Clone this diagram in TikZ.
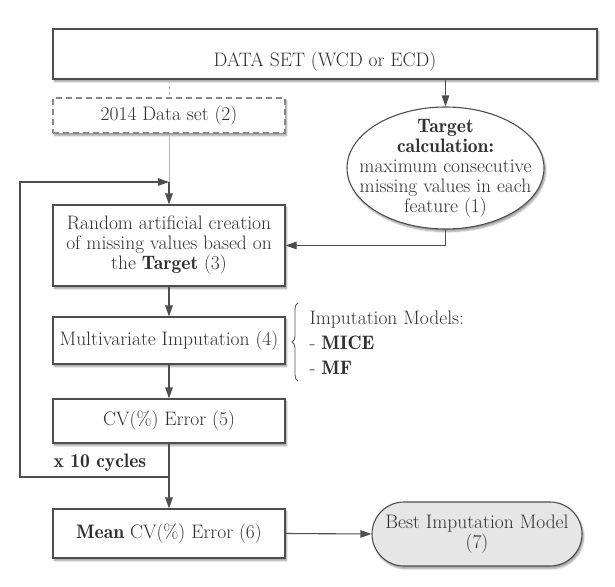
\documentclass[tikz,border=0pt]{standalone}
\usepackage{fontspec}
\newfontface\demibf{lmromandemi10-regular.otf}
\newcommand{\bfx}[1]{{\demibf #1}}
\usetikzlibrary{arrows.meta,shapes.geometric,shapes.misc,shadows.blur,decorations.pathreplacing,calc}
\definecolor{ink}{HTML}{303030}
\definecolor{edgec}{HTML}{4E4E4E}
\definecolor{lightedge}{HTML}{B4B4B4}
\definecolor{dashc}{HTML}{888888}
\definecolor{pillc}{HTML}{E6E6E6}
\begin{document}
\begin{tikzpicture}[x=1pt,y=-1pt,
  font=\fontsize{19.5}{20}\selectfont,
  every node/.style={text=ink},
  shadowed/.style={blur shadow={shadow xshift=1.5pt, shadow yshift=-2.5pt, shadow blur steps=6, shadow opacity=40}},
  box/.style={draw=edgec, line width=1.1pt, fill=white, align=center, inner sep=0pt, shadowed},
  dbox/.style={draw=dashc, line width=1.1pt, dash pattern=on 6pt off 4pt, fill=white, align=center, inner sep=0pt, shadowed},
  ell/.style={ellipse, draw=edgec, line width=1.1pt, fill=white, inner sep=0pt, shadowed},
  pill/.style={rounded rectangle, draw=edgec, line width=1.1pt, fill=pillc, align=center, inner sep=0pt, shadowed},
  arr/.style={draw=edgec, line width=1.1pt, -{Triangle[length=11pt,width=7.5pt]}},
  ln/.style={draw=edgec, line width=1.1pt}]
\useasboundingbox (0,0) rectangle (615,586);

\node[box, minimum width=544, minimum height=50] (ds) at (325,54) {};
\node (dslabel) at (325,62) {DATA SET (WCD or ECD)};

\node[dbox, minimum width=232, minimum height=35] (d14) at (169,115.5) {2014 Data set (2)};

\node[ell, minimum width=197, minimum height=122] (tgt) at (445.5,168) {};
\node[align=center] (tgtlabel) at (445.5,168) {\bfx{Target}\\\bfx{calculation:}\\maximum consecutive\\missing values in each\\feature (1)};

\node[box, minimum width=232, minimum height=81] (b3) at (169,245.5) {Random artificial creation\\of missing values based on\\the \bfx{Target} (3)};
\node[box, minimum width=232, minimum height=47] (b4) at (169,340.5) {Multivariate Imputation (4)};
\node[box, minimum width=232, minimum height=44] (b5) at (169,421) {CV(\%) Error (5)};
\node[box, minimum width=232, minimum height=49] (b6) at (169,533.5) {\bfx{Mean} CV(\%) Error (6)};
\node[pill, minimum width=210, minimum height=64] (best) at (477,534) {Best Imputation Model\\(7)};

\node[align=left, anchor=west, font=\fontsize{19.5}{25}\selectfont] (models) at (306,343) {Imputation Models:\\- \bfx{MICE}\\- \bfx{MF}};
\node[anchor=west] (cyc) at (50,463) {\bfx{x 10 cycles}};

\coordinate (j1) at (169,182);
\coordinate (j2) at (169,477);
\coordinate (loopTL) at (20,182);
\coordinate (loopBL) at (20,477);
\coordinate (braceB) at (298,381);
\coordinate (braceT) at (298,303);

\draw[lightedge, line width=1pt, dashed] (ds.south -| d14.north) -- (d14.north);
\draw[lightedge, line width=1pt] (d14.south) -- (j1);
\draw[arr] (j1) -- (b3.north);
\draw[arr] (j2) -- (loopBL) -- (loopTL) -- (j1);
\draw[arr] (ds.south -| tgt.north) -- (tgt.north);
\draw[arr] (tgt.south) |- (b3.east);
\draw[arr] (b3.south) -- (b4.north);
\draw[arr] (b4.south) -- (b5.north);
\draw[arr] (b5.south) -- (b6.north);
\draw[arr] (b6.east) -- (best.west);
\draw[edgec, line width=0.8pt, decorate, decoration={brace, amplitude=6pt}] (braceB) -- (braceT);
\end{tikzpicture}
\end{document}
